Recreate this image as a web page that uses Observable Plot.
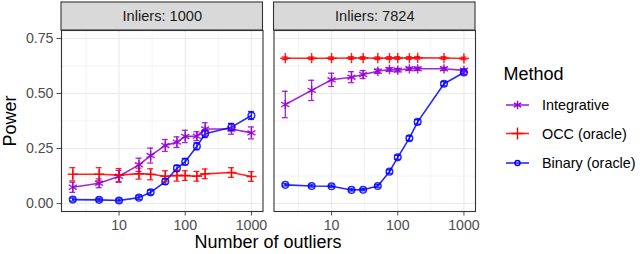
<!DOCTYPE html>
<html><head><meta charset="utf-8">
<script src="https://cdn.jsdelivr.net/npm/d3@7"></script>
<script src="https://cdn.jsdelivr.net/npm/@observablehq/plot@0.6"></script>
<style>
body{margin:0;background:#fff;font-family:"Liberation Sans",Arial,Helvetica,sans-serif}
#wrap{position:relative;width:640px;height:254px;overflow:hidden}
#wrap svg{position:absolute;left:0;top:0}
.ttl{position:absolute;color:#000;white-space:nowrap;line-height:1}
</style></head><body><div id="wrap"></div>
<script>
const panels = ["Inliers: 1000", "Inliers: 7824"];
const methods = ["Integrative", "OCC (oracle)", "Binary (oracle)"];
const colors = ["#9400D3", "#FF0000", "#0000FF"];
const symbols = ["asterisk", "plus", "circle"];
const outliers = [2, 5, 10, 20, 30, 50, 75, 100, 150, 200, 500, 1000];
const xTicks = [10, 100, 1000];
const yTicks = [0, 0.25, 0.5, 0.75];

// Inliers: 1000
const integ1000    = [0.074, 0.092, 0.124, 0.176, 0.218, 0.264, 0.279, 0.305, 0.306, 0.339, 0.339, 0.321];
const integ1000Err = [0.023, 0.020, 0.027, 0.030, 0.034, 0.027, 0.024, 0.028, 0.020, 0.028, 0.024, 0.027];
const occ1000      = [0.133, 0.133, 0.129, 0.136, 0.133, 0.124, 0.127, 0.127, 0.124, 0.135, 0.141, 0.123];
const occ1000Err   = [0.030, 0.030, 0.030, 0.025, 0.025, 0.025, 0.025, 0.022, 0.022, 0.022, 0.022, 0.022];
const bin1000      = [0.018, 0.017, 0.014, 0.027, 0.051, 0.100, 0.160, 0.190, 0.260, 0.317, 0.347, 0.400];
const bin1000Err   = [0.007, 0.007, 0.007, 0.008, 0.010, 0.012, 0.014, 0.015, 0.016, 0.017, 0.017, 0.018];
// Inliers: 7824
const integ7824    = [0.450, 0.514, 0.562, 0.574, 0.586, 0.601, 0.609, 0.606, 0.612, 0.612, 0.612, 0.605];
const integ7824Err = [0.060, 0.046, 0.030, 0.025, 0.018, 0.010, 0.008, 0.008, 0.007, 0.007, 0.007, 0.007];
const occ7824      = [0.660, 0.660, 0.660, 0.661, 0.661, 0.660, 0.661, 0.661, 0.661, 0.662, 0.661, 0.659];
const occ7824Err   = [0.006, 0.006, 0.006, 0.006, 0.006, 0.006, 0.006, 0.006, 0.006, 0.006, 0.006, 0.006];
const bin7824      = [0.085, 0.080, 0.079, 0.062, 0.063, 0.080, 0.145, 0.210, 0.297, 0.371, 0.544, 0.595];
const bin7824Err   = [0.005, 0.005, 0.005, 0.005, 0.005, 0.006, 0.008, 0.009, 0.010, 0.010, 0.009, 0.008];

const series = [
  [panels[0], methods[0], integ1000, integ1000Err],
  [panels[0], methods[1], occ1000, occ1000Err],
  [panels[0], methods[2], bin1000, bin1000Err],
  [panels[1], methods[0], integ7824, integ7824Err],
  [panels[1], methods[1], occ7824, occ7824Err],
  [panels[1], methods[2], bin7824, bin7824Err]
];
const rows = [];
for (const [panel, method, vals, errs] of series) {
  outliers.forEach((x, i) => rows.push({panel, method, x, y: vals[i], lo: vals[i] - errs[i], hi: vals[i] + errs[i]}));
}

const xdom = [1.35, 1496];
const ydom = [-0.036, 0.786];
const pxPerY = 181 / (ydom[1] - ydom[0]);
const stripTop = ydom[1] + 28 / pxPerY;
const capK = Math.pow(10, 0.045);
const xMinor = [Math.sqrt(10), Math.sqrt(1000), Math.sqrt(100000)];
const yMinor = [0.125, 0.375, 0.625];
const FONT = '"Liberation Sans", Arial, Helvetica, sans-serif';
const dotOpts = {fx: "panel", x: "x", y: "y", stroke: "method", symbol: "method", strokeWidth: 1.5, strokeOpacity: 0.85, fill: "none"};

const chart = Plot.plot({
  width: 640, height: 254,
  marginLeft: 61, marginRight: 165, marginTop: 30, marginBottom: 43,
  style: {fontFamily: FONT, fontSize: "14.2px", color: "#4d4d4d", background: "white"},
  fx: {domain: panels, paddingInner: 0.0518, paddingOuter: 0, axis: null, round: false, label: null},
  x: {type: "log", domain: xdom, ticks: xTicks, tickFormat: d => String(d), tickSize: 4.5, tickPadding: 3.5, label: null},
  y: {domain: ydom, ticks: yTicks, tickFormat: d => d.toFixed(2), tickSize: 4.5, tickPadding: 3.5, label: null},
  color: {domain: methods, range: colors},
  symbol: {domain: methods, range: symbols},
  marks: [
    Plot.ruleY(yMinor, {stroke: "#ebebeb", strokeWidth: 0.6}),
    Plot.ruleX(xMinor, {stroke: "#ebebeb", strokeWidth: 0.6}),
    Plot.ruleY(yTicks, {stroke: "#ebebeb", strokeWidth: 1.1}),
    Plot.ruleX(xTicks, {stroke: "#ebebeb", strokeWidth: 1.1}),
    Plot.line(rows, {fx: "panel", x: "x", y: "y", z: "method", stroke: "method", strokeWidth: 1.6, strokeOpacity: 0.85}),
    Plot.ruleX(rows, {fx: "panel", x: "x", y1: "lo", y2: "hi", stroke: "method", strokeWidth: 1.3, strokeOpacity: 0.85}),
    Plot.ruleY(rows, {fx: "panel", y: "lo", x1: d => d.x / capK, x2: d => d.x * capK, stroke: "method", strokeWidth: 1.3, strokeOpacity: 0.85}),
    Plot.ruleY(rows, {fx: "panel", y: "hi", x1: d => d.x / capK, x2: d => d.x * capK, stroke: "method", strokeWidth: 1.3, strokeOpacity: 0.85}),
    Plot.dot(rows.filter(d => d.method === methods[0]), {...dotOpts, r: 4.4}),
    Plot.dot(rows.filter(d => d.method === methods[1]), {...dotOpts, r: 3.4}),
    Plot.dot(rows.filter(d => d.method === methods[2]), {...dotOpts, r: 3.3}),
    Plot.frame({stroke: "#333333", strokeWidth: 1.1}),
    Plot.rect(panels, {fx: d => d, x1: () => xdom[0], x2: () => xdom[1], y1: () => ydom[1], y2: () => stripTop, fill: "#d9d9d9", stroke: "#333333", strokeWidth: 1.1}),
    Plot.text(panels, {fx: d => d, x: () => Math.sqrt(xdom[0] * xdom[1]), y: () => (ydom[1] + stripTop) / 2, text: d => d, fill: "#1a1a1a", fontSize: 14.6})
  ]
});
const wrap = document.getElementById("wrap");
wrap.appendChild(chart);

function addText(txt, css) {
  const d = document.createElement("div");
  d.className = "ttl";
  d.textContent = txt;
  Object.assign(d.style, css);
  wrap.appendChild(d);
}
addText("Number of outliers", {left: "268px", top: "241.5px", transform: "translate(-50%,-50%)", fontSize: "18px"});
addText("Power", {left: "9.5px", top: "121px", transform: "translate(-50%,-50%) rotate(-90deg)", fontSize: "18px"});
addText("Method", {left: "503.5px", top: "74px", transform: "translateY(-50%)", fontSize: "18px"});

// legend
const ns = "http://www.w3.org/2000/svg";
const lg = document.createElementNS(ns, "svg");
lg.setAttribute("width", 640); lg.setAttribute("height", 254);
lg.style.pointerEvents = "none";
const legY = [105, 133.5, 163];
const symGen = {asterisk: d3.symbolAsterisk, plus: d3.symbolPlus, circle: d3.symbolCircle};
methods.forEach((m, i) => {
  const g = document.createElementNS(ns, "g");
  g.setAttribute("transform", `translate(0,${legY[i]})`);
  const ln = document.createElementNS(ns, "line");
  ln.setAttribute("x1", 506); ln.setAttribute("x2", 529); ln.setAttribute("y1", 0); ln.setAttribute("y2", 0);
  ln.setAttribute("stroke", colors[i]); ln.setAttribute("stroke-width", 1.6); ln.setAttribute("stroke-opacity", 0.85);
  g.appendChild(ln);
  const sy = document.createElementNS(ns, "path");
  const area = symbols[i] === "circle" ? 20 : 48;
  sy.setAttribute("d", d3.symbol(symGen[symbols[i]], area)());
  sy.setAttribute("transform", "translate(517.5,0)");
  sy.setAttribute("fill", "none"); sy.setAttribute("stroke", colors[i]); sy.setAttribute("stroke-width", 1.4);
  g.appendChild(sy);
  const tx = document.createElementNS(ns, "text");
  tx.setAttribute("x", 542); tx.setAttribute("y", 0); tx.setAttribute("dy", "0.35em");
  tx.setAttribute("font-size", 14.4); tx.setAttribute("fill", "#000");
  tx.setAttribute("font-family", FONT);
  tx.textContent = m;
  g.appendChild(tx);
  lg.appendChild(g);
});
wrap.appendChild(lg);
</script></body></html>
